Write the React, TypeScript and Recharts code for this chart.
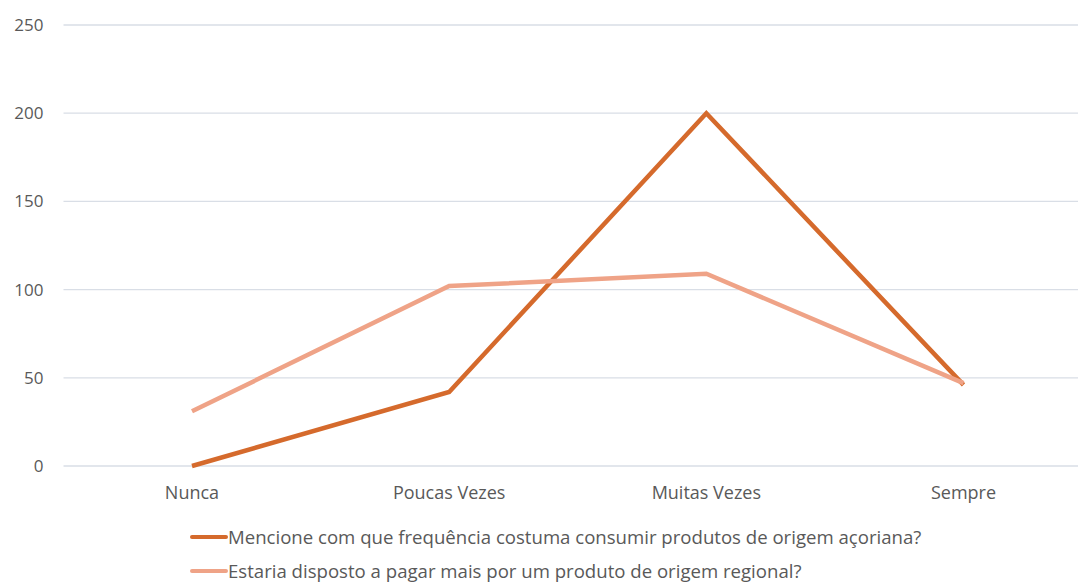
import { LineChart, Line, XAxis, YAxis, CartesianGrid, Legend } from "recharts";

const categories = ["Nunca", "Poucas Vezes", "Muitas Vezes", "Sempre"];
const consumoAcoriano = [0, 42, 200, 46];
const pagarMaisRegional = [31, 102, 109, 47];
const yTicks = [0, 50, 100, 150, 200, 250];

const seriesNames = {
    consumo: "Mencione com que frequência costuma consumir produtos de origem açoriana?",
    pagar: "Estaria disposto a pagar mais por um produto de origem regional?",
};

const DARK = "#d56a2c";
const LIGHT = "#efa387";
const FONT = "'Open Sans', sans-serif";

const data = categories.map((name, i) => ({
    name,
    consumo: consumoAcoriano[i],
    pagar: pagarMaisRegional[i],
}));

function LegendBox() {
    const rows = [
        { label: seriesNames.consumo, color: DARK },
        { label: seriesNames.pagar, color: LIGHT },
    ];
    return (
        <div style={{ height: 57, paddingLeft: 190, fontFamily: FONT, fontSize: 18.6, color: "#595959" }}>
            {rows.map((r, i) => (
                <div key={i} style={{ height: 24, lineHeight: "24px", marginTop: i === 0 ? 0 : 10, display: "flex", alignItems: "center", whiteSpace: "nowrap" }}>
                    <span style={{ display: "inline-block", width: 38, height: 4.5, background: r.color, borderRadius: 2, flexShrink: 0 }} />
                    <span>{r.label}</span>
                </div>
            ))}
        </div>
    );
}

export default function App() {
    return (
        <div style={{ position: "absolute", left: 0, top: 0, width: 1078, height: 582, overflow: "hidden", background: "#fff" }}>
            <LineChart width={1100} height={582} data={data} margin={{ top: 25, right: 8, left: 0, bottom: 0 }}>
                <CartesianGrid vertical={false} stroke="#d9dee6" strokeWidth={1.3} />
                <XAxis
                    dataKey="name"
                    axisLine={false}
                    tickLine={false}
                    tickSize={0}
                    tickMargin={20}
                    height={59}
                    padding={{ left: 128.5, right: 128.5 }}
                    tick={{ fill: "#595959", fontSize: 18, fontFamily: FONT }}
                />
                <YAxis
                    domain={[0, 250]}
                    ticks={yTicks}
                    width={63.5}
                    axisLine={false}
                    tickLine={false}
                    tickSize={0}
                    tickMargin={20}
                    tick={{ fill: "#595959", fontSize: 17, fontFamily: FONT }}
                />
                <Legend verticalAlign="bottom" align="left" content={() => <LegendBox />} wrapperStyle={{ left: 0, width: 1078 }} />
                <Line type="linear" dataKey="consumo" name={seriesNames.consumo} stroke={DARK} strokeWidth={4.5} dot={false} activeDot={false} isAnimationActive={false} />
                <Line type="linear" dataKey="pagar" name={seriesNames.pagar} stroke={LIGHT} strokeWidth={4.5} dot={false} activeDot={false} isAnimationActive={false} />
            </LineChart>
        </div>
    );
}
